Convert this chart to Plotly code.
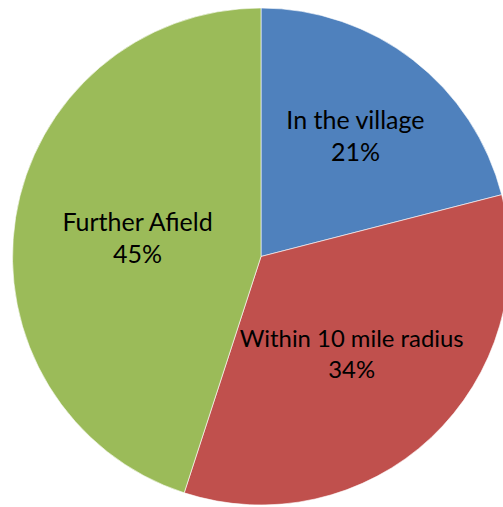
import plotly.graph_objects as go

labels = ["In the village", "Within 10 mile radius", "Further Afield"]
values = [21, 34, 45]
colors = ["#4F81BD", "#C0504D", "#9BBB59"]

W, H = 520, 507

fig = go.Figure(go.Pie(
    labels=labels,
    values=values,
    sort=False,
    direction="clockwise",
    rotation=0,
    marker=dict(colors=colors, line=dict(color="#FFFFFF", width=0.6)),
    textinfo="label+percent",
    textposition="inside",
    insidetextorientation="horizontal",
    textfont=dict(family="Lato", size=25, color="#000000"),
    hoverinfo="label+percent",
    domain=dict(x=[12.5 / W, 509.5 / W], y=[2 / H, 499 / H]),
))

fig.update_layout(
    width=W,
    height=H,
    margin=dict(l=0, r=0, t=0, b=0),
    showlegend=False,
    paper_bgcolor="#FFFFFF",
    plot_bgcolor="#FFFFFF",
)

fig.write_html(
    "out.html",
    config={"displayModeBar": False},
    post_script="document.body.style.margin='0';document.body.style.overflow='hidden';",
)
